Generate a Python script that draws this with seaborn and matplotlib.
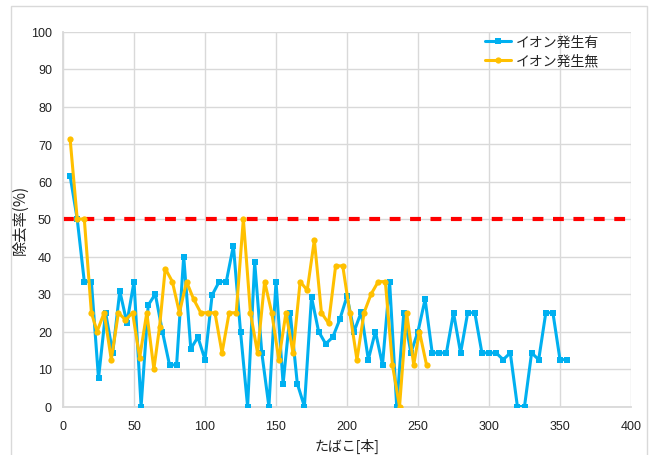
import matplotlib
matplotlib.use("Agg")
import matplotlib.pyplot as plt
import seaborn as sns
import pandas as pd
from matplotlib.patches import Rectangle
from matplotlib.lines import Line2D

# ---- data ----
blue_label = "イオン発生有"
yellow_label = "イオン発生無"

blue_x = [5, 10, 15, 20, 25, 30, 35, 40, 45, 50,
          55, 60, 65, 70, 75, 80, 85, 90, 95, 100,
          105, 110, 115, 120, 125, 130, 135, 140, 145, 150,
          155, 160, 165, 170, 175, 180, 185, 190, 195, 200,
          205, 210, 215, 220, 225, 230, 235, 240, 245, 250,
          255, 260, 265, 270, 275, 280, 285, 290, 295, 300,
          305, 310, 315, 320, 325, 330, 335, 340, 345, 350, 355]
blue_y = [61.5, 50.0, 33.3, 33.3, 7.5, 25.0, 14.3, 30.8, 22.3, 33.3,
          0.0, 27.0, 30.0, 20.0, 11.1, 11.1, 40.0, 15.4, 18.5, 12.5,
          29.7, 33.3, 33.3, 42.9, 20.0, 0.0, 38.5, 14.3, 0.0, 33.3,
          6.1, 25.0, 6.1, 0.0, 29.2, 20.0, 16.7, 18.5, 23.3, 29.4,
          20.0, 25.2, 12.5, 20.0, 11.1, 33.3, 0.0, 25.0, 14.3, 20.0,
          28.6, 14.3, 14.3, 14.3, 25.0, 14.3, 25.0, 25.0, 14.3, 14.3,
          14.3, 12.5, 14.3, 0.0, 0.0, 14.3, 12.5, 25.0, 25.0, 12.5, 12.5]

yellow_x = [5, 10, 15, 20, 24, 29, 34, 39, 44, 49,
            54, 59, 64, 68, 72, 77, 82, 87, 92, 97,
            102, 107, 112, 117, 122, 127, 132, 137, 142, 147,
            152, 157, 162, 167, 172, 177, 182, 187, 192, 197,
            202, 207, 212, 217, 222, 227, 232, 237, 242, 247, 251, 256]
yellow_y = [71.4, 50.0, 50.0, 25.0, 20.0, 25.0, 12.5, 25.0, 23.1, 25.0,
            13.0, 25.0, 10.0, 21.2, 36.8, 33.3, 25.0, 33.3, 28.6, 25.0,
            25.0, 25.0, 14.3, 25.0, 25.0, 50.0, 25.0, 14.3, 33.3, 25.0,
            12.5, 25.0, 14.3, 33.3, 31.0, 44.4, 25.0, 22.2, 37.5, 37.5,
            25.0, 12.5, 25.0, 30.0, 33.3, 33.3, 11.1, 0.0, 25.0, 11.1, 20.0, 11.1]

threshold = 50
x_ticks = list(range(0, 401, 50))
y_ticks = list(range(0, 101, 10))
x_label = "たばこ[本]"
y_label = "除去率(%)"

BLUE = "#00B0F0"
YELLOW = "#FFC000"
GRID = "#D9D9D9"

sns.set_style("white")
plt.rcParams["font.family"] = ["Noto Sans CJK JP", "DejaVu Sans"]

fig = plt.figure(figsize=(6.51, 4.56), dpi=100)
ax = fig.add_axes([63 / 651, 1 - 407.5 / 456, 568 / 651, 375 / 456])

# chart border
fig.patches.append(Rectangle((11 / 651, -0.05), 636 / 651, 1.05 - 7 / 456,
                             transform=fig.transFigure, fill=False,
                             edgecolor=GRID, lw=1, zorder=0))

df_b = pd.DataFrame({"x": blue_x, "y": blue_y})
df_y = pd.DataFrame({"x": yellow_x, "y": yellow_y})

ax.axhline(threshold, color="#FF0000", lw=3, dashes=(2.6, 2.3), zorder=2)
sns.lineplot(data=df_b, x="x", y="y", ax=ax, color=BLUE, lw=2.2,
             marker="s", markersize=5, markeredgewidth=0, zorder=3,
             estimator=None, sort=False)
sns.lineplot(data=df_y, x="x", y="y", ax=ax, color=YELLOW, lw=2.2,
             marker="o", markersize=4.5, markeredgewidth=0, zorder=4,
             estimator=None, sort=False)

ax.set_xlim(0, 400)
ax.set_ylim(0, 100)
ax.set_xticks(x_ticks)
ax.set_yticks(y_ticks)
ax.grid(True, color=GRID, lw=1)
ax.set_axisbelow(True)
for side in ["top", "right"]:
    ax.spines[side].set_visible(False)
for side in ["left", "bottom"]:
    ax.spines[side].set_color(GRID)
    ax.spines[side].set_linewidth(1.3)
ax.tick_params(axis="both", length=0, labelsize=9, colors="#222222")
ax.tick_params(axis="y", pad=8)
ax.tick_params(axis="x", pad=10)
for lab in ax.get_xticklabels() + ax.get_yticklabels():
    lab.set_family(["Liberation Sans", "DejaVu Sans"])

ax.set_xlabel(x_label, fontsize=10, labelpad=4, color="#222222")
ax.set_ylabel(y_label, fontsize=11, labelpad=2, color="#222222")

handles = [Line2D([], [], color=BLUE, lw=2.2, marker="s", markersize=5, markeredgewidth=0),
           Line2D([], [], color=YELLOW, lw=2.2, marker="o", markersize=4.5, markeredgewidth=0)]
ax.legend(handles, [blue_label, yellow_label], loc="upper left",
          bbox_to_anchor=(0.725, 1.017), frameon=False, fontsize=10,
          handlelength=1.9, handletextpad=0.35, labelspacing=0.35,
          borderpad=0.2)

fig.savefig("out.png", dpi=100)
